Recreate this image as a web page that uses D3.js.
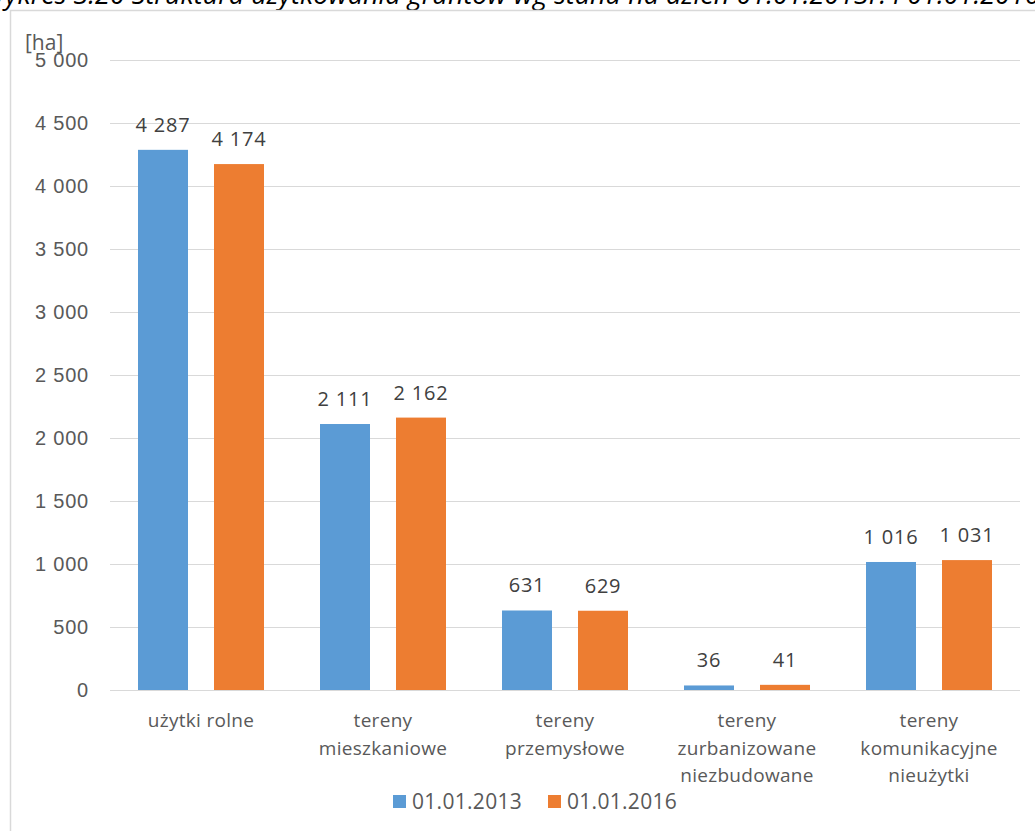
<!DOCTYPE html>
<html>
<head>
<meta charset="utf-8">
<script src="https://cdn.jsdelivr.net/npm/d3@7"></script>
<style>
  body { margin: 0; background: #fff; }
  svg { display: block; font-family: "Open Sans", sans-serif; }
</style>
</head>
<body>
<div id="chart"></div>
<script>
// data
const categories = [
  ["użytki rolne"],
  ["tereny", "mieszkaniowe"],
  ["tereny", "przemysłowe"],
  ["tereny", "zurbanizowane", "niezbudowane"],
  ["tereny", "komunikacyjne", "nieużytki"]
];
const seriesNames = ["01.01.2013", "01.01.2016"];
const values2013 = [4287, 2111, 631, 36, 1016];
const values2016 = [4174, 2162, 629, 41, 1031];
const yTicks = [0, 500, 1000, 1500, 2000, 2500, 3000, 3500, 4000, 4500, 5000];
const colors = ["#5b9bd5", "#ed7d31"];

const W = 1035, H = 831;
const margin = {top: 60, right: 15, bottom: 141, left: 110};
const width = W - margin.left - margin.right,
      height = H - margin.top - margin.bottom;

const fmt = v => d3.format(",")(v).replace(",", " ");

const svg = d3.select("#chart").append("svg")
    .attr("width", W)
    .attr("height", H);

// title (cut by the top edge in the reference)
svg.append("text")
    .attr("x", -18)
    .attr("y", 4)
    .style("font-size", "27px")
    .style("font-style", "italic")
    .attr("fill", "#000")
    .text("Wykres 3.20 Struktura użytkowania gruntów wg stanu na dzień 01.01.2013r. i 01.01.2016r.");

// chart frame
svg.append("rect")
    .attr("x", 10.5).attr("y", 10.5)
    .attr("width", 1200).attr("height", 1000)
    .attr("fill", "none")
    .attr("stroke", "#d9d9d9")
    .attr("stroke-width", 1.5);

const g = svg.append("g")
    .attr("transform", "translate(" + margin.left + "," + margin.top + ")");

const data = categories.map((c, i) => ({cat: i, vals: [values2013[i], values2016[i]]}));

let x0 = d3.scaleBand()
    .domain(d3.range(categories.length))
    .range([0, width]);

let x1 = d3.scaleBand()
    .domain([0, 1])
    .range([28, x0.bandwidth() - 28])
    .paddingInner(26 / 76);

let y = d3.scaleLinear()
    .domain([0, 5000])
    .range([height, 0]);

// gridlines + tick labels
let yAxis = d3.axisLeft(y)
    .tickValues(yTicks)
    .tickSize(-width)
    .tickPadding(21)
    .tickFormat(fmt);

let ya = g.append("g").call(yAxis);
ya.select(".domain").remove();
ya.selectAll(".tick line").attr("stroke", "#d9d9d9").attr("stroke-width", 1);
ya.selectAll(".tick text")
    .attr("fill", "#595959")
    .style("font-size", "20px")
    .style("letter-spacing", "0.8px");

// bars
let groups = g.selectAll(".grp")
    .data(data)
    .enter().append("g")
    .attr("transform", d => "translate(" + x0(d.cat) + ",0)");

groups.selectAll("rect")
    .data(d => d.vals.map((v, k) => ({k: k, v: v})))
    .enter().append("rect")
    .attr("x", d => x1(d.k))
    .attr("y", d => y(d.v))
    .attr("width", x1.bandwidth())
    .attr("height", d => y(0) - y(d.v))
    .attr("fill", d => colors[d.k]);

groups.selectAll(".lbl")
    .data(d => d.vals.map((v, k) => ({k: k, v: v})))
    .enter().append("text")
    .attr("x", d => x1(d.k) + x1.bandwidth() / 2)
    .attr("y", d => y(d.v) - 18)
    .attr("text-anchor", "middle")
    .attr("fill", "#404040")
    .style("font-size", "20px")
    .style("letter-spacing", "0.8px")
    .text(d => fmt(d.v));

// category labels
let catLabels = g.append("g").selectAll("text")
    .data(data)
    .enter().append("text")
    .attr("x", d => x0(d.cat) + x0.bandwidth() / 2)
    .attr("y", height + 37)
    .attr("text-anchor", "middle")
    .attr("fill", "#595959")
    .style("font-size", "19px")
    .style("letter-spacing", "0.3px");

catLabels.selectAll("tspan")
    .data(d => categories[d.cat])
    .enter().append("tspan")
    .attr("x", function () { return d3.select(this.parentNode).attr("x"); })
    .attr("dy", (d, i) => i === 0 ? 0 : 27.5)
    .text(d => d);

// [ha] unit label
svg.append("text")
    .attr("x", 25).attr("y", 50)
    .attr("fill", "#595959")
    .style("font-size", "21px")
    .text("[ha]");

// legend
const legendX = [393, 548];
let legend = svg.append("g").selectAll("g")
    .data(seriesNames)
    .enter().append("g")
    .attr("transform", (d, i) => "translate(" + legendX[i] + ",795)");

legend.append("rect")
    .attr("width", 13).attr("height", 13)
    .attr("fill", (d, i) => colors[i]);

legend.append("text")
    .attr("x", 19).attr("y", 14)
    .attr("fill", "#595959")
    .style("font-size", "21px")
    .style("letter-spacing", "0.3px")
    .text(d => d);
</script>
</body>
</html>
